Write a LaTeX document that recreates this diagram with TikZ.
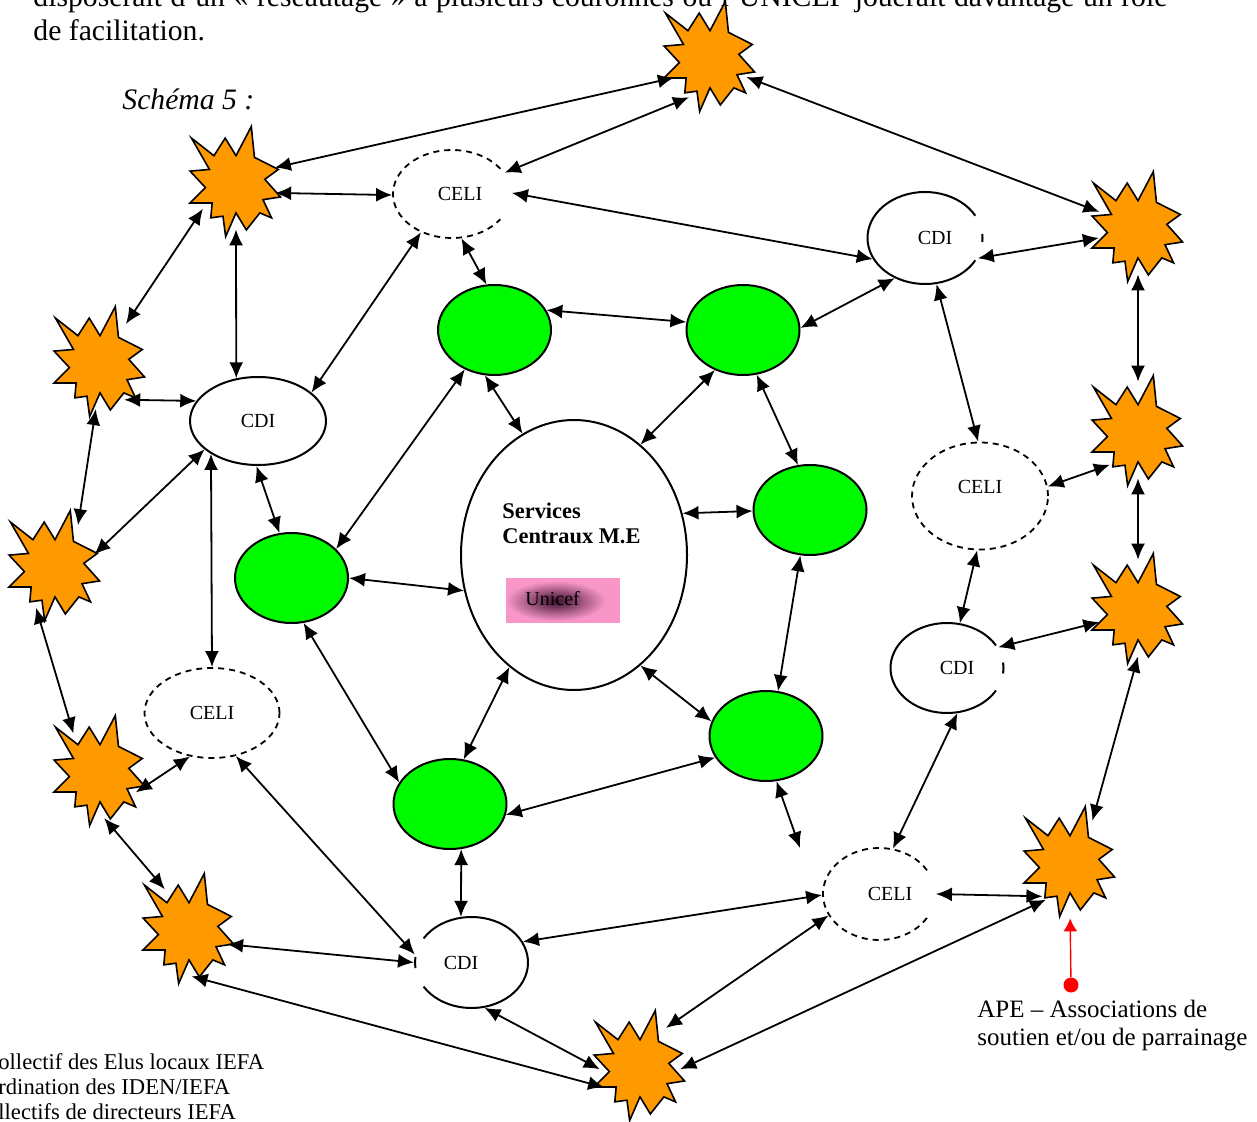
\documentclass[tikz,border=0pt]{standalone}
\usepackage{fontspec}
\setmainfont{Liberation Serif}
\usetikzlibrary{arrows.meta,shapes.geometric,calc}
\definecolor{boomorange}{RGB}{255,153,0}
\definecolor{nodegreen}{RGB}{0,250,0}
\definecolor{unipink}{RGB}{248,150,200}
\definecolor{unidark}{RGB}{60,15,45}
\tikzset{
  link/.style={line width=0.9pt,{Latex[length=8pt,width=7pt]}-{Latex[length=8pt,width=7pt]}},
  boomstyle/.style={draw=black, line width=0.8pt, fill=boomorange, line join=miter},
  boomnode/.style={ellipse, minimum width=40pt, minimum height=48pt, inner sep=0pt},
  greennode/.style={ellipse, draw, line width=1pt, fill=nodegreen, minimum width=56.5pt, minimum height=45pt, inner sep=0pt},
  cdinode/.style={ellipse, line width=1pt, inner sep=0pt},
  celinode/.style={ellipse, line width=0.9pt, dash pattern=on 3pt off 2.5pt, inner sep=0pt},
  celiarc/.style={line width=0.9pt, dash pattern=on 3pt off 2.5pt},
  cdiarc/.style={line width=1pt},
  lbl/.style={font=\fontsize{10}{12}\selectfont, inner sep=0pt},
  bodytxt/.style={font=\fontsize{14.85}{17}\selectfont, inner sep=0pt, anchor=base west},
  boom/.pic={\draw[boomstyle, xscale=45, yscale=-55]
    (-0.99,0.78) -- (-0.49,0.46) -- (-0.24,0.78) -- (0,0.46) -- (0.34,0.99) -- (0.41,0.43)
    -- (0.94,0.21) -- (0.64,0.03) -- (0.99,-0.29) -- (0.60,-0.34) -- (0.79,-0.67) -- (0.53,-0.58)
    -- (0.23,-0.89) -- (0,-0.58) -- (-0.23,-1.01) -- (-0.29,-0.64) -- (-0.56,-0.67) -- (-0.53,-0.40)
    -- (-1.02,-0.40) -- (-0.68,-0.12) -- (-1.02,0.18) -- (-0.59,0.21) -- cycle;}
}
\begin{document}
\begin{tikzpicture}[x=0.5pt,y=-0.5pt]
\useasboundingbox (0,0) rectangle (1257,1122);
\fill[white] (0,0) rectangle (1257,1122);

% texts of the page
\node[bodytxt] (line1) at (33,7) {\makebox[567pt][s]{disposerait d’un « réseautage » à plusieurs couronnes où l’UNICEF jouerait davantage un rôle}};
\node[bodytxt] (line2) at (33,41) {de facilitation.};
\node[bodytxt, font=\itshape\fontsize{14.85}{17}\selectfont] (title) at (122,110) {Schéma 5 :};

% stars
\foreach \n/\x/\y in {S1/710/56, S2/236/181, S3/100/361, S4/55/565, S5/100/770, S6/189/928,
  S7/640/1065, S8/1070/861, S9/1138/608, S10/1138/430, S11/1138/226}{
  \pic at (\x,\y) {boom};
  \node[boomnode] (\n) at (\x,\y) {};
}

% green nodes
\node[greennode] (G1) at (494.5,330) {};
\node[greennode] (G2) at (743,330) {};
\node[greennode] (G3) at (810,510) {};
\node[greennode] (G4) at (766,736) {};
\node[greennode] (G5) at (450,804) {};
\node[greennode] (G6) at (291.5,578) {};

% central node
\node[ellipse, draw, line width=1pt, minimum width=113pt, minimum height=135pt, inner sep=0pt] (SC) at (574,555) {};
\node[anchor=base west, font=\bfseries\fontsize{11.2}{13}\selectfont, inner sep=0pt] (sc1) at (502,518) {Services};
\node[anchor=base west, font=\bfseries\fontsize{11.2}{13}\selectfont, inner sep=0pt] (sc2) at (502,543) {Centraux M.E};
\node[rectangle, fill=unipink, minimum width=57pt, minimum height=22.5pt, inner sep=0pt] (ubox) at (563,600.5) {};
\shade[inner color=unidark, outer color=unipink] (556,601) ellipse [x radius=25pt, y radius=10pt];
\node[lbl, anchor=base west] (unicef) at (525,605) {Unicef};

% CDI nodes
\node[cdinode, draw, minimum width=68pt, minimum height=44pt] (C1) at (258,421) {\fontsize{10}{12}\selectfont CDI};
\node[cdinode, minimum width=57.5pt, minimum height=46pt] (C2) at (925,238) {};
\draw[cdiarc] ([shift={(29:28.75pt and 23pt)}]C2.center) arc[start angle=29, end angle=331, x radius=28.75pt, y radius=23pt];
\draw[cdiarc] ([shift={(-5:28.75pt and 23pt)}]C2.center) arc[start angle=-5, end angle=5, x radius=28.75pt, y radius=23pt];
\node[lbl] at ([xshift=5pt]C2.center) {CDI};
\node[cdinode, minimum width=56.5pt, minimum height=45pt] (C3) at (947,668) {};
\draw[cdiarc] ([shift={(30:28.25pt and 22.5pt)}]C3.center) arc[start angle=30, end angle=330, x radius=28.25pt, y radius=22.5pt];
\draw[cdiarc] ([shift={(-7:28.25pt and 22.5pt)}]C3.center) arc[start angle=-7, end angle=7, x radius=28.25pt, y radius=22.5pt];
\node[lbl] at ([xshift=5pt]C3.center) {CDI};
\node[cdinode, minimum width=56.5pt, minimum height=45.5pt] (C4) at (471.5,962.5) {};
\draw[cdiarc] ([shift={(212:28.25pt and 22.75pt)}]C4.center) arc[start angle=212, end angle=508, x radius=28.25pt, y radius=22.75pt];
\draw[cdiarc] ([shift={(173:28.25pt and 22.75pt)}]C4.center) arc[start angle=173, end angle=187, x radius=28.25pt, y radius=22.75pt];
\node[lbl] at ([xshift=-5.25pt]C4.center) {CDI};

% CELI nodes
\node[celinode, minimum width=59pt, minimum height=44pt] (E1) at (452,194) {};
\draw[celiarc] ([shift={(35:29.5pt and 22pt)}]E1.center) arc[start angle=35, end angle=325, x radius=29.5pt, y radius=22pt];
\node[lbl] at ([xshift=4pt]E1.center) {CELI};
\node[celinode, draw, minimum width=68pt, minimum height=53.5pt] (E2) at (980,496) {};
\node[lbl] at ([yshift=4.5pt]E2.center) {CELI};
\node[celinode, draw, minimum width=67.5pt, minimum height=45pt] (E3) at (212,713) {\fontsize{10}{12}\selectfont CELI};
\node[celinode, minimum width=56pt, minimum height=46pt] (E4) at (879,894) {};
\draw[celiarc] ([shift={(31:28pt and 23pt)}]E4.center) arc[start angle=31, end angle=329, x radius=28pt, y radius=23pt];
\node[lbl] at ([xshift=5.5pt]E4.center) {CELI};

\coordinate (g4end) at (800,848);

% connectors
\draw[link] (S2.19) -- (S1.211);
\draw[link] (E1.22) -- (S1.243);
\draw[link] (S1.-30) -- (S11.160);
\draw[link] (S2.-17) -- (E1.181);
\draw[link] (E1.1) -- (C2.202);
\draw[link] (C2.-21) -- (S11.197);
\draw[link] (S2.220) -- (S3.55);
\draw[link] (S2.270) -- (C1.117);
\draw[link] (E1.231) -- (C1.28);
\draw[link] (E1.282) -- (G1.100);
\draw[link] (G1.21) -- (G2.172);
\draw[link] (G2.2) -- (C2.233);
\draw[link] (C2.284) -- (E2.92);
\draw[link] (S11.270) -- (S10.90);
\draw[link] (S3.-58) -- (C1.162);
\draw[link] (S3.265) -- (S4.60);
\draw[link] (C1.208) -- (S4.15);
\draw[link] (C1.268) -- (G6.105);
\draw[link] (G1.233) -- (G6.33);
\draw[link] (G1.258) -- (SC.113);
\draw[link] (G2.235) -- (SC.59);
\draw[link] (G2.287) -- (G3.105);
\draw[link] (SC.21) -- (G3.181);
\draw[link] (E2.8) -- (S10.231);
\draw[link] (S10.270) -- (S9.90);
\draw[link] (G6.0) -- (SC.198);
\draw[link] (C1.215) -- (E3.90);
\draw[link] (S4.246) -- (S5.126);
\draw[link] (E2.267) -- (C3.74);
\draw[link] (C3.22) -- (S9.200);
\draw[link] (G3.258) -- (G4.75);
\draw[link] (SC.240) -- (G5.73);
\draw[link] (SC.301) -- (G4.165);
\draw[link] (G6.285) -- (G5.157);
\draw[link] (E3.243) -- (S5.-32);
\draw[link] (G5.-11) -- (G4.203);
\draw[link] (G4.283) -- (g4end);
\draw[link] (C3.283) -- (E4.73);
\draw[link] (S9.270) -- (S8.61);
\draw[link] (S5.275) -- (S6.122);
\draw[link] (E3.299) -- (C4.172);
\draw[link] (G5.284) -- (C4.103);
\draw[link] (C4.22) -- (E4.181);
\draw[link] (E4.0) -- (S8.232);
\draw[link] (S6.-23) -- (C4.180);
\draw[link] (E4.203) -- (S7.55);
\draw[link] (S8.238) -- (S7.-6);
\draw[link] (C4.286) -- (S7.186);
\draw[link] (S6.273) -- (S7.212);

% APE pointer
\node[circle, fill=red, minimum size=7.5pt, inner sep=0pt] (apedot) at (1071,985) {};
\draw[red, line width=0.7pt, -{Latex[length=6.5pt,width=7pt]}, shorten >=4.5pt] (apedot) -- (S8.270);
\node[anchor=base west, inner sep=0pt, font=\fontsize{12.5}{15}\selectfont] (ape1) at (977,1017) {APE – Associations de};
\node[anchor=base west, inner sep=0pt, font=\fontsize{12.5}{15}\selectfont] (ape2) at (977,1045) {soutien et/ou de parrainage};

% legend, cut at the left edge
\node[anchor=base west, inner sep=0pt, font=\fontsize{11.3}{13}\selectfont] (leg1) at (-2,1069) {ollectif des Elus locaux IEFA};
\node[anchor=base west, inner sep=0pt, font=\fontsize{11.3}{13}\selectfont] (leg2) at (-2,1094) {rdination des IDEN/IEFA};
\node[anchor=base west, inner sep=0pt, font=\fontsize{11.3}{13}\selectfont] (leg3) at (-2,1119) {llectifs de directeurs IEFA};
\end{tikzpicture}
\end{document}
